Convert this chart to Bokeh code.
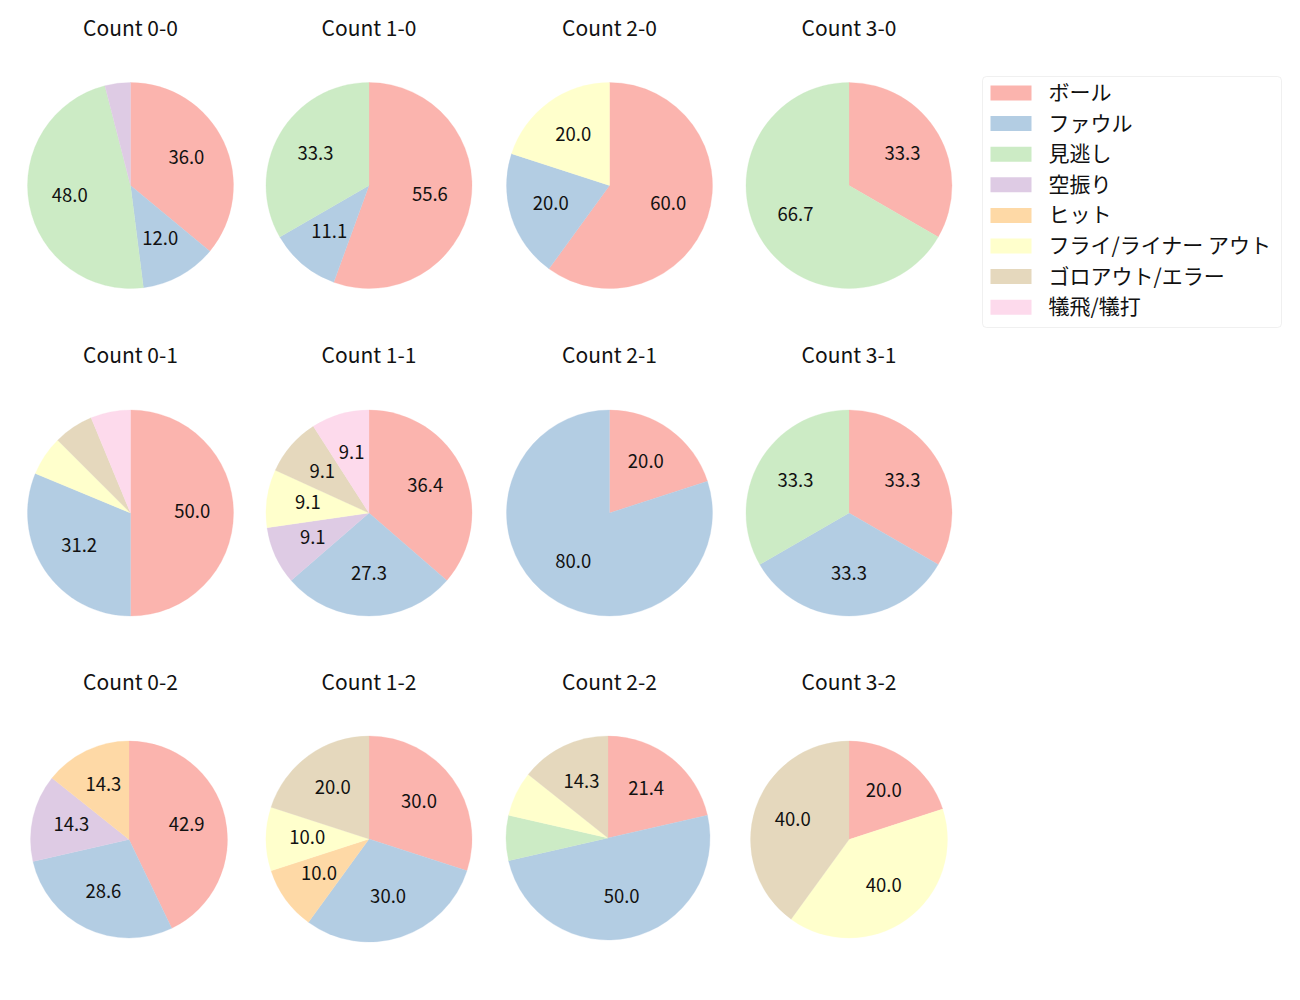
import math
from bokeh.plotting import figure
from bokeh.models import Range1d, BoxAnnotation, ColumnDataSource
from bokeh.core.properties import value
from bokeh.embed import file_html
from bokeh.resources import INLINE

# ---------------- data ----------------
categories = ["ボール", "ファウル", "見逃し", "空振り", "ヒット",
              "フライ/ライナー アウト", "ゴロアウト/エラー", "犠飛/犠打"]
counts = ["0-0", "1-0", "2-0", "3-0",
          "0-1", "1-1", "2-1", "3-1",
          "0-2", "1-2", "2-2", "3-2"]
ball     = [9, 5, 3, 1, 8, 4, 1, 1, 3, 3, 3, 1]
foul     = [3, 1, 1, 0, 5, 3, 4, 1, 2, 3, 7, 0]
looking  = [12, 3, 0, 2, 0, 0, 0, 1, 0, 0, 1, 0]
swinging = [1, 0, 0, 0, 0, 1, 0, 0, 1, 0, 0, 0]
hit      = [0, 0, 0, 0, 0, 0, 0, 0, 1, 1, 0, 0]
flyout   = [0, 0, 1, 0, 1, 1, 0, 0, 0, 1, 1, 2]
groundout= [0, 0, 0, 0, 1, 1, 0, 0, 0, 2, 2, 2]
sacrifice= [0, 0, 0, 0, 1, 1, 0, 0, 0, 0, 0, 0]
series = [ball, foul, looking, swinging, hit, flyout, groundout, sacrifice]

colors = ["#fbb4ae", "#b3cde3", "#ccebc5", "#decbe4",
          "#fed9a6", "#ffffcc", "#e5d8bd", "#fddaec"]

# ---------------- layout ----------------
W, H = 1284, 984
FONT = value("Noto Sans CJK JP")
col_x = [130, 368.5, 609, 848.5]
row_y = [185, 512.5, 838.5]
title_y = [26, 353, 680]
TXT_DY = 2  # raise labels slightly
# per-pie (dx, dy, radius) tweaks
pie_geom = {8: (-1.5, 0.5, 98.5), 10: (-1.5, -1, 102), 11: (0, 0.5, 98.5)}


def Y(ypix):
    return 1000 - ypix


p = figure(width=W, height=H, output_backend="svg", toolbar_location=None,
           x_range=Range1d(0, W), y_range=Range1d(1000 - H, 1000),
           x_axis_type=None, y_axis_type=None, min_border=0,
           background_fill_color="white", border_fill_color="white")
p.grid.visible = False
p.outline_line_color = None

wx, wy, wr, ws, we, wc = [], [], [], [], [], []
lx, ly, lt = [], [], []
tx, ty, tt = [], [], []
for k, cnt in enumerate(counts):
    r_i, c_i = divmod(k, 4)
    dx, dy, rad = pie_geom.get(k, (0, 0, 103))
    cx = col_x[c_i] + dx
    cy = row_y[r_i] + dy
    vals = [s[k] for s in series]
    total = sum(vals)
    cum = 0.0
    for j, v in enumerate(vals):
        if v == 0:
            continue
        frac0 = cum / total
        frac1 = (cum + v) / total
        cum += v
        a0 = math.pi / 2 - frac0 * 2 * math.pi
        a1 = math.pi / 2 - frac1 * 2 * math.pi
        wx.append(cx); wy.append(Y(cy)); wr.append(rad)
        ws.append(a0); we.append(a1); wc.append(colors[j])
        pct = 100.0 * v / total
        if pct >= 8:
            mid = (a0 + a1) / 2
            lx.append(cx + 0.6 * rad * math.cos(mid))
            ly.append(Y(cy) + 0.6 * rad * math.sin(mid) + TXT_DY)
            lt.append(f"{pct:.1f}")
    tx.append(col_x[c_i]); ty.append(Y(title_y[r_i])); tt.append(f"Count {cnt}")

p.wedge(x="x", y="y", radius="r", start_angle="s", end_angle="e",
        direction="clock", fill_color="c", line_color="c", line_width=0.3,
        source=ColumnDataSource(dict(x=wx, y=wy, r=wr, s=ws, e=we, c=wc)))
p.text(x=lx, y=ly, text=lt, text_font=FONT, text_font_size="18.5px",
       text_align="center", text_baseline="middle", text_color="#111111")
p.text(x=tx, y=ty, text=tt, text_font=FONT, text_font_size="21px",
       text_align="center", text_baseline="middle", text_color="#111111")

# ---------------- legend ----------------
p.add_layout(BoxAnnotation(left=982, right=1281, top=Y(76), bottom=Y(327),
                           fill_color=None, level="underlay",
                           line_color="#cccccc", line_width=1, border_radius=4))
leg_y = [Y(92.5 + i * 30.6) for i in range(len(categories))]
p.quad(left=[990] * len(categories), right=[1031] * len(categories),
       top=[y + 7.5 for y in leg_y], bottom=[y - 7.5 for y in leg_y],
       fill_color=colors, line_color=None)
p.text(x=[1048] * len(categories), y=[y + TXT_DY for y in leg_y],
       text=categories, text_font=FONT,
       text_font_size="21px", text_align="left", text_baseline="middle",
       text_color="#111111")

open("out.html", "w").write(file_html(p, INLINE))
